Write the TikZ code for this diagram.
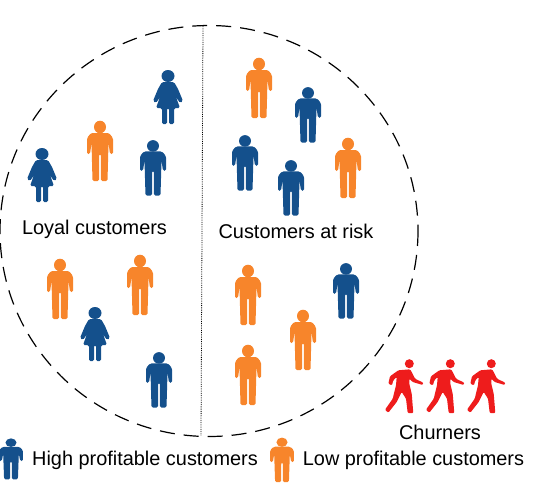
\documentclass[tikz,border=0pt]{standalone}
\usepackage{fontspec}
\setmainfont{Liberation Sans}
\definecolor{highblue}{HTML}{14508C}
\definecolor{loworange}{HTML}{F7852B}
\definecolor{churnred}{HTML}{EE1C1C}
\tikzset{
    label text/.style={font=\fontsize{19.9}{22}\selectfont,inner sep=0pt,text=black},
    highfig/.style={highblue,yscale=0.92},
    lowfig/.style={loworange},
    legendfig/.style={xscale=0.92,yscale=0.74},
    man/.pic={
        \fill (0,-24) ellipse (6 and 6.3);
        \fill[rounded corners=1.5pt] (-9,-18) -- (9,-18) -- (13,-13) -- (13,3) -- (10,3)
            -- (8.5,-8) -- (7.5,30) -- (1,30) -- (0.8,3) -- (-0.8,3) -- (-1,30) -- (-7.5,30)
            -- (-8.5,-8) -- (-10,3) -- (-13,3) -- (-13,-13) -- cycle;
    },
    woman/.pic={
        \fill (0,-21) ellipse (6.5 and 6);
        \fill[rounded corners=1.5pt] (-6,-15) -- (6,-15) -- (10,-8) -- (15,4) -- (12,6) -- (8,0)
            -- (12,11) -- (6,11) -- (6,27) -- (1,27) -- (1,11) -- (-1,11) -- (-1,27) -- (-6,27)
            -- (-6,11) -- (-12,11) -- (-8,0) -- (-12,6) -- (-15,4) -- (-10,-8) -- cycle;
    },
    walker/.pic={
        \fill (4.3,-23.3) circle (4.5);
        \fill[rounded corners=1pt] (-6.7,-16.7) -- (5,-17.7) -- (6.7,-15) -- (10,-8.3) -- (18.3,-4.3)
            -- (17.7,-2) -- (7.7,-5) -- (4.3,-8.3) -- (4.3,-3.3) -- (6.7,6.7) -- (8.3,26) -- (2.7,26)
            -- (1,11.7) -- (-3.3,5) -- (-8.3,15) -- (-16.7,25.7) -- (-20,22.7) -- (-12.3,11.7)
            -- (-9,-1.7) -- (-8.3,-10) -- (-11.7,-6.7) -- (-13,-1.7) -- (-16.7,-3.3) -- (-15,-10.7) -- cycle;
    }
}
\begin{document}
\begin{tikzpicture}[x=1pt,y=-1pt]
    \useasboundingbox (0,0) rectangle (534,485);
    \clip (0,0) rectangle (534,485);
    % Dashed border
    \draw[line width=1.2pt,dash pattern=on 15pt off 9pt] (209,231) ellipse (209 and 205.5);
    % Divider
    \coordinate (divtop) at (203,26);
    \coordinate (divbottom) at (201,436);
    \draw[densely dotted,line width=0.8pt] (divtop) -- (divbottom);
    % Loyal side
    \foreach \px/\py in {153/168,159/380}
        \pic[highfig] at (\px,\py) {man};
    \foreach \px/\py in {168/97,42/175,95/334}
        \pic[highblue] at (\px,\py) {woman};
    \foreach \px/\py in {100/151,60/289,140/285}
        \pic[lowfig] at (\px,\py) {man};
    % At risk side
    \foreach \px/\py in {308/115,245/163,291/188,346/291}
        \pic[highfig] at (\px,\py) {man};
    \foreach \px/\py in {259/88,348/168,248/295,303/340,248/375}
        \pic[lowfig] at (\px,\py) {man};
    % Churners
    \foreach \px in {405,446,487}
        \pic[churnred] at (\px,387) {walker};
    % Legend
    \pic[highfig,legendfig] at (11,459) {man};
    \pic[lowfig,legendfig] at (282,460) {man};
    % Labels
    \node[label text] (loyal) at (94.5,229) {Loyal customers};
    \node[label text] (risk) at (296,231) {Customers at risk};
    \node[label text] (churners) at (440,432) {Churners};
    \node[label text] (highlabel) at (145,460) {High profitable customers};
    \node[label text] (lowlabel) at (413.5,460) {Low profitable customers};
\end{tikzpicture}
\end{document}
